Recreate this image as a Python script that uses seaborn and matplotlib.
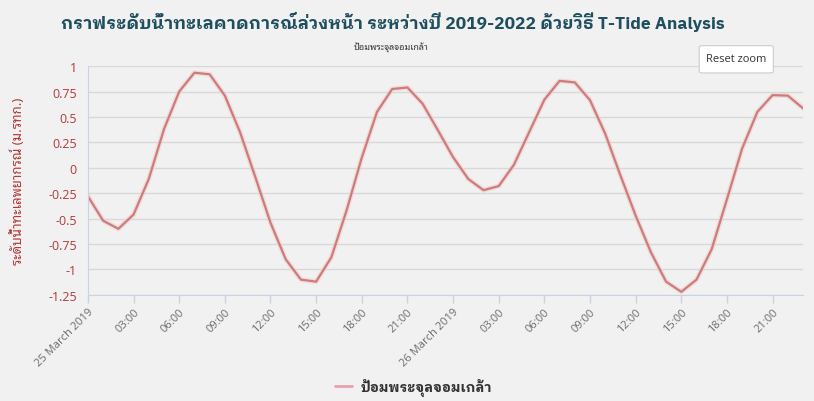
import matplotlib
matplotlib.use('Agg')
import matplotlib.pyplot as plt
import matplotlib.dates as mdates
import seaborn as sns
import pandas as pd
from matplotlib.patches import FancyBboxPatch
from matplotlib.lines import Line2D

# hourly predicted tide level, 25-26 March 2019
start_time = '2019-03-25 00:00'
levels = [-0.28, -0.52, -0.60, -0.46, -0.11, 0.38, 0.75, 0.935, 0.92, 0.71,
          0.35, -0.09, -0.54, -0.90, -1.10, -1.12, -0.88, -0.42, 0.10, 0.55,
          0.775, 0.79, 0.63, 0.37, 0.105, -0.11, -0.22, -0.18, 0.03, 0.35,
          0.67, 0.855, 0.84, 0.665, 0.335, -0.075, -0.47, -0.83, -1.12, -1.22,
          -1.10, -0.80, -0.31, 0.19, 0.55, 0.715, 0.71, 0.585]
station = 'ป้อมพระจุลจอมเกล้า'
title = 'กราฟระดับน้ำทะเลคาดการณ์ล่วงหน้า ระหว่างปี 2019-2022 ด้วยวิธี T-Tide Analysis'
ylabel = 'ระดับน้ำทะเลพยากรณ์ (ม.รทก.)'
yticks = [1, 0.75, 0.5, 0.25, 0, -0.25, -0.5, -0.75, -1, -1.25]

df = pd.DataFrame({'time': pd.date_range(start_time, periods=len(levels), freq='h'),
                   'level': levels})

sns.set_style('white')
thai = ['Noto Sans Thai Looped', 'Open Sans', 'DejaVu Sans']
plt.rcParams['font.family'] = thai

fig = plt.figure(figsize=(8.14, 4.02), dpi=100, facecolor='#f1f1f1')
ax = fig.add_axes([0.108, 0.264, 0.8785, 0.569])
ax.set_facecolor('#f1f1f1')

# soft shadow under the line
sns.lineplot(data=df, x='time', y='level', ax=ax, color='#ecd0d0', linewidth=3.6, alpha=0.6)
sns.lineplot(data=df, x='time', y='level', ax=ax, color='#d07a7a', linewidth=1.6)

ax.set_xlim(df['time'].iloc[0], df['time'].iloc[-1])
ax.set_ylim(-1.25, 1.0)
ax.set_yticks(yticks)
ax.set_yticklabels([f'{v:g}' for v in yticks], color='#b23a3a', fontsize=9,
                   family=['Open Sans', 'DejaVu Sans'])
ax.grid(axis='y', color='#d8d8d8', linewidth=1)
ax.grid(axis='x', visible=False)

def fmt(x, pos):
    d = mdates.num2date(x)
    if d.hour == 0:
        return f'{d.day} March {d.year}'
    return d.strftime('%H:%M')

ax.xaxis.set_major_locator(mdates.HourLocator(byhour=range(0, 24, 3)))
ax.xaxis.set_major_formatter(plt.FuncFormatter(fmt))
for lab in ax.get_xticklabels():
    lab.set_rotation(45)
    lab.set_ha('right')
    lab.set_rotation_mode('anchor')
    lab.set_color('#6b6b6b')
    lab.set_fontsize(8)
    lab.set_family(['Open Sans', 'DejaVu Sans'])
ax.tick_params(axis='x', length=6, width=1, color='#c8d4e3', bottom=True, pad=2)
ax.tick_params(axis='y', length=0, pad=8)

for side in ['top', 'right']:
    ax.spines[side].set_visible(False)
ax.spines['left'].set_color('#c8d4e3')
ax.spines['bottom'].set_color('#c8d4e3')

ax.set_xlabel('')
ax.set_ylabel(ylabel, color='#b23a3a', fontsize=9.5, labelpad=17)

fig.text(0.482, 0.945, title, ha='center', va='center', fontsize=12.6,
         fontweight='bold', color='#1f4f5f',
         family=['IBM Plex Sans Thai Looped', 'Noto Sans Thai', 'DejaVu Sans'])
fig.text(0.48, 0.883, station, ha='center', va='center', fontsize=6.5, color='#333333')

# "Reset zoom" button
btn = FancyBboxPatch((0.861, 0.818), 0.087, 0.064, boxstyle='round,pad=0.002,rounding_size=0.004',
                     transform=fig.transFigure, facecolor='white', edgecolor='#cccccc', linewidth=0.8)
fig.patches.append(btn)
fig.text(0.9045, 0.851, 'Reset zoom', ha='center', va='center', fontsize=8,
         color='#333333', family=['Open Sans', 'DejaVu Sans'])

# legend
handle = Line2D([], [], color='#e8a2ab', linewidth=2)
leg = fig.legend([handle], [station], loc='center', bbox_to_anchor=(0.508, 0.035), frameon=False,
                 fontsize=10, handlelength=1.2, handletextpad=0.6, labelcolor='#333333')
for t in leg.get_texts():
    t.set_fontweight('bold')
    t.set_family(['IBM Plex Sans Thai Looped', 'Noto Sans Thai Looped', 'DejaVu Sans'])

fig.savefig('out.png', dpi=100, facecolor='#f1f1f1')
